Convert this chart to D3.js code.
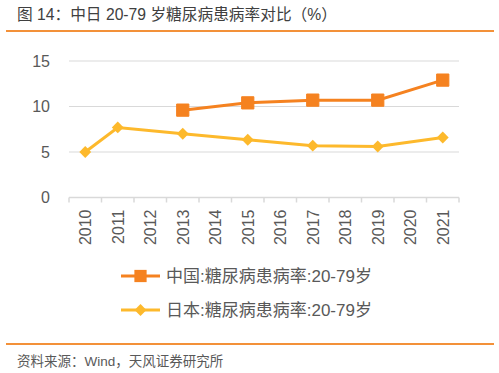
<!DOCTYPE html>
<html>
<head>
<meta charset="utf-8">
<script src="https://cdn.jsdelivr.net/npm/d3@7"></script>
<style>
    body { margin: 0; background: #fff; }
    svg { display: block; font-family: "Liberation Sans", "Noto Sans CJK SC", sans-serif; }
</style>
</head>
<body>
<div id="chart"></div>
<script>
const years = ["2010", "2011", "2012", "2013", "2014", "2015", "2016", "2017", "2018", "2019", "2020", "2021"];
const yTicks = [0, 5, 10, 15];

// China only has values every other year from 2013
const chinaYears = ["2013", "2015", "2017", "2019", "2021"];
const chinaValues = [9.6, 10.4, 10.7, 10.7, 12.9];

const japanYears = ["2010", "2011", "2013", "2015", "2017", "2019", "2021"];
const japanValues = [5.0, 7.7, 7.0, 6.35, 5.7, 5.6, 6.6];

const seriesNames = ["中国:糖尿病患病率:20-79岁", "日本:糖尿病患病率:20-79岁"];

const WIDTH = 499, HEIGHT = 373;
const ORANGE = "#F58220", YELLOW = "#FDB92C", RULE = "#F39139";

const svg = d3.select("#chart")
    .append("svg")
    .attr("width", WIDTH)
    .attr("height", HEIGHT);

// Title and rules above / below
svg.append("text")
    .text("图 14：中日 20-79 岁糖尿病患病率对比（%）")
    .attr("x", 17)
    .attr("y", 20)
    .attr("fill", "#404040")
    .style("font-size", "15.7px");

svg.append("line")
    .attr("x1", 6).attr("x2", 494)
    .attr("y1", 31).attr("y2", 31)
    .attr("stroke", RULE)
    .attr("stroke-width", 2);

svg.append("line")
    .attr("x1", 6).attr("x2", 494)
    .attr("y1", 344).attr("y2", 344)
    .attr("stroke", RULE)
    .attr("stroke-width", 2);

svg.append("text")
    .text("资料来源：Wind，天风证券研究所")
    .attr("x", 17)
    .attr("y", 366)
    .attr("fill", "#595959")
    .style("font-size", "13.5px");

// Scales
const xScale = d3.scaleBand()
    .domain(years)
    .range([69, 459]);

const yScale = d3.scaleLinear()
    .domain([0, 15])
    .range([197.5, 61]);

const cx = y => xScale(y) + xScale.bandwidth() / 2;

// Gridlines
svg.append("g")
    .selectAll("line")
    .data(yTicks.filter(d => d > 0))
    .join("line")
    .attr("x1", 69).attr("x2", 459)
    .attr("y1", d => yScale(d)).attr("y2", d => yScale(d))
    .attr("stroke", "#D9D9D9")
    .attr("stroke-width", 1);

// Y axis labels (no axis line)
const yAxis = svg.append("g")
    .attr("transform", "translate(69,0)")
    .call(d3.axisLeft(yScale).tickValues(yTicks).tickSize(0).tickPadding(19));
yAxis.select(".domain").remove();
yAxis.selectAll("text")
    .attr("fill", "#595959")
    .style("font-size", "16px")
    .style("font-family", "Liberation Sans, sans-serif");

// X axis with ticks between categories
const xAxis = svg.append("g")
    .attr("transform", `translate(0,${yScale(0)})`);

xAxis.append("line")
    .attr("x1", 69).attr("x2", 459)
    .attr("stroke", "#D9D9D9")
    .attr("stroke-width", 1.5);

xAxis.selectAll(".tickmark")
    .data(years.concat(["end"]))
    .join("line")
    .attr("class", "tickmark")
    .attr("x1", (d, i) => i < years.length ? xScale(d) : xScale.range()[1])
    .attr("x2", (d, i) => i < years.length ? xScale(d) : xScale.range()[1])
    .attr("y1", 0).attr("y2", 5)
    .attr("stroke", "#D9D9D9")
    .attr("stroke-width", 1.5);

xAxis.selectAll(".ticklabel")
    .data(years)
    .join("text")
    .attr("class", "ticklabel")
    .text(d => d)
    .attr("transform", d => `translate(${cx(d) + 6},12) rotate(-90)`)
    .attr("text-anchor", "end")
    .attr("fill", "#595959")
    .style("font-size", "16px");

// Lines
const line = d3.line()
    .x(d => cx(d.year))
    .y(d => yScale(d.value));

const china = chinaYears.map((year, i) => ({ year, value: chinaValues[i] }));
const japan = japanYears.map((year, i) => ({ year, value: japanValues[i] }));

svg.append("path")
    .attr("d", line(japan))
    .attr("fill", "none")
    .attr("stroke", YELLOW)
    .attr("stroke-width", 3);

svg.append("path")
    .attr("d", line(china))
    .attr("fill", "none")
    .attr("stroke", ORANGE)
    .attr("stroke-width", 3);

const diamond = d3.symbol().type(d3.symbolDiamond2).size(90);
const square = d3.symbol().type(d3.symbolSquare).size(150);

svg.selectAll(".jp-pt")
    .data(japan)
    .join("path")
    .attr("class", "jp-pt")
    .attr("d", diamond)
    .attr("transform", d => `translate(${cx(d.year)},${yScale(d.value)})`)
    .attr("fill", YELLOW);

svg.selectAll(".cn-pt")
    .data(china)
    .join("path")
    .attr("class", "cn-pt")
    .attr("d", square)
    .attr("transform", d => `translate(${cx(d.year)},${yScale(d.value)})`)
    .attr("fill", ORANGE)
    .attr("stroke", ORANGE)
    .attr("stroke-width", 1)
    .attr("stroke-linejoin", "round");

// Legend
const legend = svg.append("g");
const legendRows = [
    { name: seriesNames[0], color: ORANGE, sym: square, y: 276 },
    { name: seriesNames[1], color: YELLOW, sym: diamond, y: 310 }
];

legendRows.forEach(r => {
    legend.append("line")
        .attr("x1", 121).attr("x2", 160)
        .attr("y1", r.y).attr("y2", r.y)
        .attr("stroke", r.color)
        .attr("stroke-width", 3);
    legend.append("path")
        .attr("d", r.sym)
        .attr("transform", `translate(140.5,${r.y})`)
        .attr("fill", r.color);
    legend.append("text")
        .text(r.name)
        .attr("x", 166)
        .attr("y", r.y + 6)
        .attr("fill", "#595959")
        .style("font-size", "17px");
});
</script>
</body>
</html>
